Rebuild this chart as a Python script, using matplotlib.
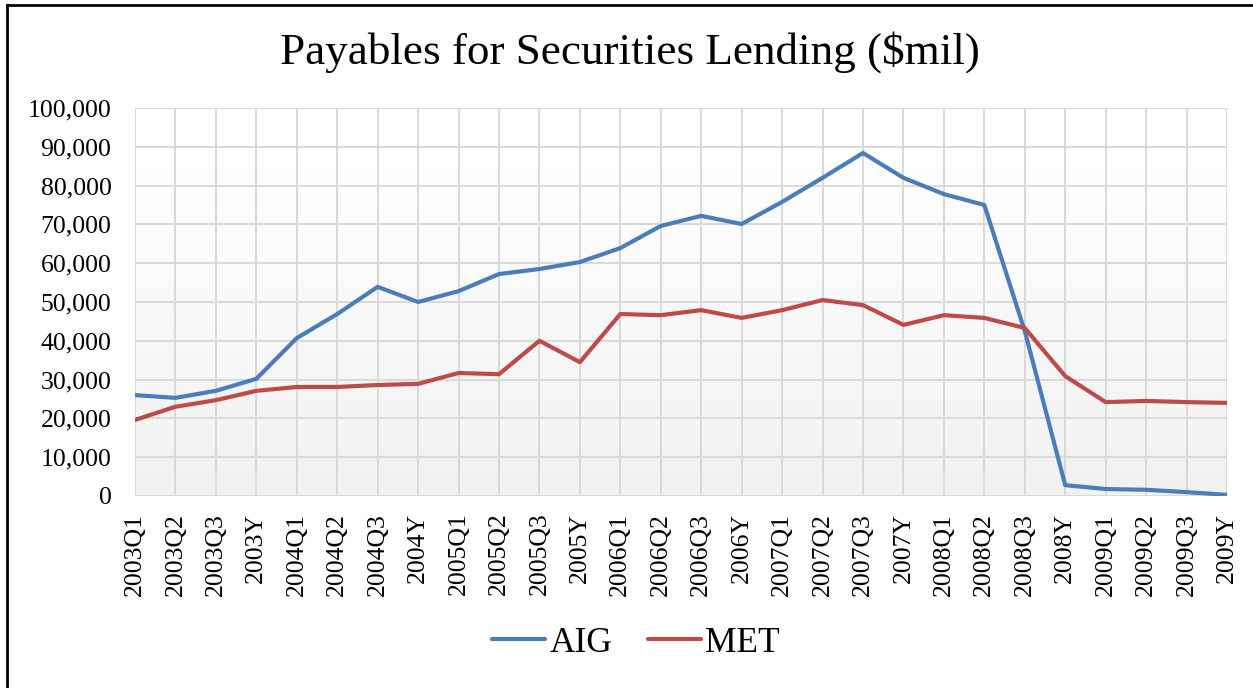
import numpy as np
import matplotlib.pyplot as plt
from matplotlib.lines import Line2D
from matplotlib.ticker import FuncFormatter

# === DATA ===
periods = ["2003Q1", "2003Q2", "2003Q3", "2003Y",
           "2004Q1", "2004Q2", "2004Q3", "2004Y",
           "2005Q1", "2005Q2", "2005Q3", "2005Y",
           "2006Q1", "2006Q2", "2006Q3", "2006Y",
           "2007Q1", "2007Q2", "2007Q3", "2007Y",
           "2008Q1", "2008Q2", "2008Q3", "2008Y",
           "2009Q1", "2009Q2", "2009Q3", "2009Y"]
aig = [26000, 25300, 27100, 30200,
       40700, 46900, 53900, 50000,
       52800, 57200, 58500, 60300,
       63900, 69600, 72200, 70100,
       75800, 82000, 88400, 82000,
       77800, 75000, 42500, 2800,
       1800, 1600, 1000, 300]
met = [19600, 23000, 24700, 27100,
       28100, 28100, 28600, 28900,
       31700, 31400, 40000, 34500,
       46900, 46600, 47900, 45900,
       47900, 50500, 49200, 44100,
       46600, 45900, 43300, 30900,
       24200, 24500, 24200, 24000]

plt.rcParams['font.family'] = ['Liberation Serif', 'DejaVu Serif']

W, H = 1253, 688
fig = plt.figure(figsize=(W / 100, H / 100), dpi=100)
ax = fig.add_axes([135 / W, 1 - 496 / H, (1227 - 135) / W, (496 - 108) / H])

x = np.arange(len(periods))

# background gradient (white at top -> light grey at bottom)
t = np.linspace(0, 1, 256)
grad = (1.0 - 0.055 * np.clip((t - 0.15) / 0.85, 0, 1)).reshape(-1, 1)
ax.imshow(np.dstack([grad, grad, grad]), extent=[0, len(periods) - 1, 0, 100000],
          aspect='auto', origin='upper', zorder=0)

ax.plot(x, aig, color='#4a7ebb', lw=3, label='AIG', zorder=3, solid_capstyle='round')
ax.plot(x, met, color='#be4b48', lw=3, label='MET', zorder=3, solid_capstyle='round')

ax.set_xlim(0, len(periods) - 1)
ax.set_ylim(0, 100000)
ax.set_yticks(np.arange(0, 100001, 10000))
ax.yaxis.set_major_formatter(FuncFormatter(lambda v, p: f"{int(v):,}"))
ax.set_xticks(x)
ax.set_xticklabels(periods, rotation=90, va='top')
ax.tick_params(axis='both', length=0, labelsize=18.5, colors='black')
ax.tick_params(axis='y', pad=17)
ax.tick_params(axis='x', pad=12)

ax.grid(True, color='#d9d9d9', lw=1.4, zorder=1)
ax.set_axisbelow(True)
for s in ax.spines.values():
    s.set_visible(False)

fig.text(630 / W, 1 - 52 / H, "Payables for Securities Lending ($mil)",
         ha='center', va='center', fontsize=32.5)

fig.legend(loc='center', bbox_to_anchor=(636 / W, 1 - 643 / H), ncol=2, frameon=False,
           fontsize=25.5, handlelength=1.5, handletextpad=0.12, columnspacing=1.0)

# outer frame
fig.add_artist(Line2D([7 / W, 7 / W], [0, 1 - 5 / H], color='black', lw=2))
fig.add_artist(Line2D([7 / W, 1], [1 - 5 / H, 1 - 5 / H], color='black', lw=2))

plt.savefig("out.png", dpi=100)
